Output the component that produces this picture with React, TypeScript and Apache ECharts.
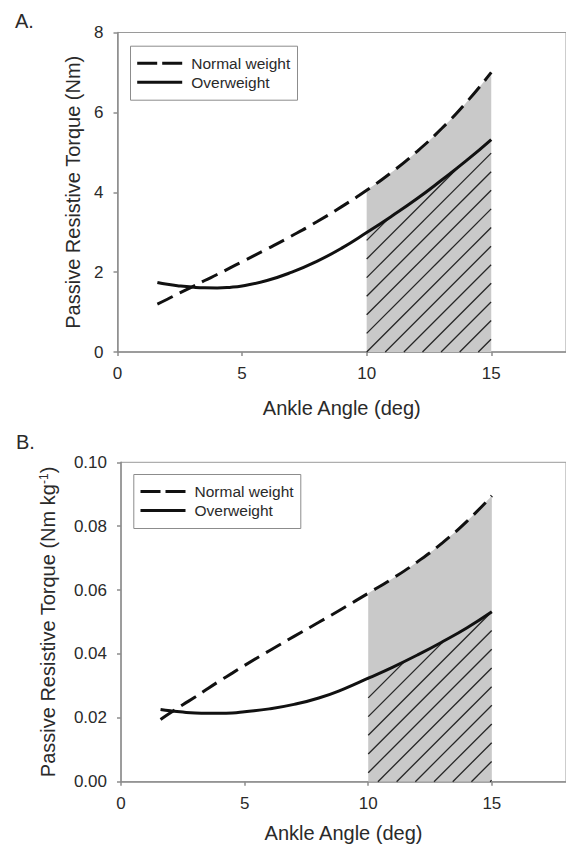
import React, { useEffect, useRef } from "react";
import * as echarts from "echarts";

// ---- data ----
const angles = [1.6, 2, 2.5, 3, 3.5, 4, 4.5, 5, 6, 7, 8, 9, 10, 11, 12, 13, 14, 15];
const normalA = [1.2, 1.32, 1.48, 1.63, 1.79, 1.94, 2.1, 2.26, 2.58, 2.91, 3.26, 3.64, 4.05, 4.5, 5.01, 5.59, 6.25, 7.0];
const overA = [1.74, 1.695, 1.655, 1.625, 1.606, 1.602, 1.618, 1.655, 1.79, 2.0, 2.27, 2.6, 2.99, 3.4, 3.83, 4.3, 4.79, 5.32];
const normalB = [0.0195, 0.0216, 0.0241, 0.0265, 0.0291, 0.0316, 0.034, 0.0364, 0.041, 0.0455, 0.0499, 0.0544, 0.059, 0.0637, 0.0689, 0.0748, 0.0816, 0.0895];
const overB = [0.0226, 0.0222, 0.0218, 0.0215, 0.0214, 0.0214, 0.0215, 0.0219, 0.0228, 0.0242, 0.0262, 0.029, 0.0324, 0.0359, 0.0397, 0.0438, 0.0482, 0.0532];
const shadeRange = [10, 15];
const seriesNames = ["Normal weight", "Overweight"];
const panelLabels = ["A.", "B."];
const xTitle = "Ankle Angle (deg)";
const yTitleA = "Passive Resistive Torque (Nm)";
const yTitleB = "Passive Resistive Torque (Nm kg{sup|-1})";

const FONT = "'Liberation Sans', Arial, Helvetica, sans-serif";
const TXT = "#2a2a2a";
const AX = "#8c8c8c";
const LINE = "#111111";

const toPts = (ys: number[]) => angles.map((a, i) => [a, ys[i]]);
const inShade = (p: number[]) => p[0] >= shadeRange[0] && p[0] <= shadeRange[1];

function hatchRenderer(curve: number[][], spacing: number, phase: number) {
  return (params: any, api: any) => {
    if (params.dataIndex !== 0) return null;
    const px = curve.map((p) => api.coord(p));
    const base = api.coord([curve[0][0], 0]);
    const L = px[0][0];
    const R = px[px.length - 1][0];
    const B = base[1];
    const topAt = (x: number) => {
      for (let i = 0; i < px.length - 1; i++) {
        const a = px[i], b = px[i + 1];
        if (x >= a[0] && x <= b[0]) {
          const t = (x - a[0]) / (b[0] - a[0] || 1);
          return a[1] + t * (b[1] - a[1]);
        }
      }
      return px[px.length - 1][1];
    };
    const children: any[] = [];
    const startX0 = L + phase - Math.ceil(B / spacing + 2) * spacing;
    for (let x0 = startX0; x0 < R; x0 += spacing) {
      const xs = Math.max(L, x0);
      const ys = B - (xs - x0);
      if (ys <= topAt(xs)) continue;
      let xe = xs;
      const step = 0.25;
      while (xe + step <= R && B - (xe + step - x0) > topAt(xe + step)) xe += step;
      if (xe - xs < 0.5) continue;
      children.push({
        type: "line",
        shape: { x1: xs, y1: ys, x2: xe, y2: B - (xe - x0) },
        style: { stroke: "#262626", lineWidth: 1.3 },
      });
    }
    return { type: "group", children };
  };
}

function panelSeries(idx: number, normal: number[], over: number[], phase: number, spacing: number) {
  const nPts = toPts(normal);
  const oPts = toPts(over);
  return [
    {
      type: "line",
      xAxisIndex: idx,
      yAxisIndex: idx,
      data: nPts.filter(inShade),
      smooth: true,
      symbol: "none",
      silent: true,
      lineStyle: { width: 0, opacity: 0 },
      areaStyle: { color: "#c9c9c9", opacity: 1 },
      z: 1,
    },
    {
      type: "custom",
      xAxisIndex: idx,
      yAxisIndex: idx,
      data: [[shadeRange[0], 0]],
      renderItem: hatchRenderer(oPts.filter(inShade), spacing, phase),
      silent: true,
      z: 2,
    },
    {
      name: seriesNames[0],
      type: "line",
      xAxisIndex: idx,
      yAxisIndex: idx,
      data: nPts,
      smooth: true,
      symbol: "none",
      lineStyle: { color: LINE, width: 3, type: [17, 8] },
      z: 3,
    },
    {
      name: seriesNames[1],
      type: "line",
      xAxisIndex: idx,
      yAxisIndex: idx,
      data: oPts,
      smooth: true,
      symbol: "none",
      lineStyle: { color: LINE, width: 3 },
      z: 3,
    },
  ];
}

function legendGraphic(left: number, top: number) {
  return {
    type: "group",
    left,
    top,
    children: [
      { type: "rect", shape: { x: 0, y: 0, width: 167, height: 54 }, style: { fill: "#fff", stroke: "#8c8c8c", lineWidth: 1 } },
      { type: "line", shape: { x1: 6.7, y1: 17, x2: 51.7, y2: 17 }, style: { stroke: LINE, lineWidth: 3, lineDash: [20, 5] } },
      { type: "line", shape: { x1: 6.7, y1: 36, x2: 51.7, y2: 36 }, style: { stroke: LINE, lineWidth: 3 } },
      { type: "text", x: 60.7, y: 17, style: { text: seriesNames[0], fill: TXT, font: `15.5px ${FONT}`, verticalAlign: "middle" } },
      { type: "text", x: 60.7, y: 36, style: { text: seriesNames[1], fill: TXT, font: `15.5px ${FONT}`, verticalAlign: "middle" } },
    ],
  };
}

function xAxisCfg(idx: number, gap: number) {
  return {
    type: "value",
    gridIndex: idx,
    min: 0,
    max: 18,
    interval: 5,
    name: xTitle,
    nameLocation: "middle",
    nameGap: gap,
    nameTextStyle: { fontSize: 20, color: TXT, fontFamily: FONT },
    axisLine: { lineStyle: { color: AX, width: 1.5 } },
    axisTick: { show: true, inside: false, length: 4, lineStyle: { color: AX, width: 1.5 } },
    axisLabel: {
      fontSize: 17,
      color: TXT,
      fontFamily: FONT,
      margin: 13,
      showMaxLabel: false,
      formatter: (v: number) => (v % 5 === 0 ? String(v) : ""),
    },
    splitLine: { show: false },
  };
}

export default function App() {
  const ref = useRef<HTMLDivElement>(null);
  useEffect(() => {
    if (!ref.current) return;
    const chart = echarts.init(ref.current, null, { renderer: "svg" });
    chart.setOption({
      animation: false,
      backgroundColor: "#ffffff",
      grid: [
        { left: 117.5, top: 32.5, height: 319.5, right: -8.3, show: true, borderColor: "#9a9a9a", borderWidth: 1, backgroundColor: "transparent" },
        { left: 121, top: 462.3, height: 319.4, right: -12.2, show: true, borderColor: "#9a9a9a", borderWidth: 1, backgroundColor: "transparent" },
      ],
      xAxis: [xAxisCfg(0, 46), xAxisCfg(1, 41)],
      yAxis: [
        {
          type: "value",
          gridIndex: 0,
          min: 0,
          max: 8,
          interval: 2,
          name: yTitleA,
          nameLocation: "middle",
          nameGap: 34,
          nameTextStyle: { fontSize: 20, color: TXT, fontFamily: FONT },
          axisLine: { show: true, lineStyle: { color: AX, width: 1.5 } },
          axisTick: { show: true, inside: false, length: 4, lineStyle: { color: AX, width: 1.5 } },
          axisLabel: { fontSize: 17, color: TXT, fontFamily: FONT, margin: 14 },
          splitLine: { show: false },
        },
        {
          type: "value",
          gridIndex: 1,
          min: 0,
          max: 0.1,
          interval: 0.02,
          name: yTitleB,
          nameLocation: "middle",
          nameGap: 63,
          nameTextStyle: {
            fontSize: 20,
            color: TXT,
            fontFamily: FONT,
            rich: { sup: { fontSize: 12, color: TXT, fontFamily: FONT, verticalAlign: "top", lineHeight: 12 } },
          },
          axisLine: { show: true, lineStyle: { color: AX, width: 1.5 } },
          axisTick: { show: true, inside: false, length: 4, lineStyle: { color: AX, width: 1.5 } },
          axisLabel: { fontSize: 17, color: TXT, fontFamily: FONT, margin: 14, formatter: (v: number) => v.toFixed(2) },
          splitLine: { show: false },
        },
      ],
      graphic: [
        { type: "text", left: 15, top: 11, style: { text: panelLabels[0], fill: TXT, font: `20px ${FONT}` } },
        { type: "text", left: 16, top: 432, style: { text: panelLabels[1], fill: TXT, font: `20px ${FONT}` } },
        legendGraphic(130, 45.7),
        legendGraphic(133.3, 474),
      ],
      series: [...panelSeries(0, normalA, overA, 0, 18.6), ...panelSeries(1, normalB, overB, 9.7, 18.7)],
    });
    return () => chart.dispose();
  }, []);
  return (
    <div
      ref={ref}
      style={{ position: "fixed", left: 0, top: 0, width: 566, height: 852, background: "#fff" }}
    />
  );
}
